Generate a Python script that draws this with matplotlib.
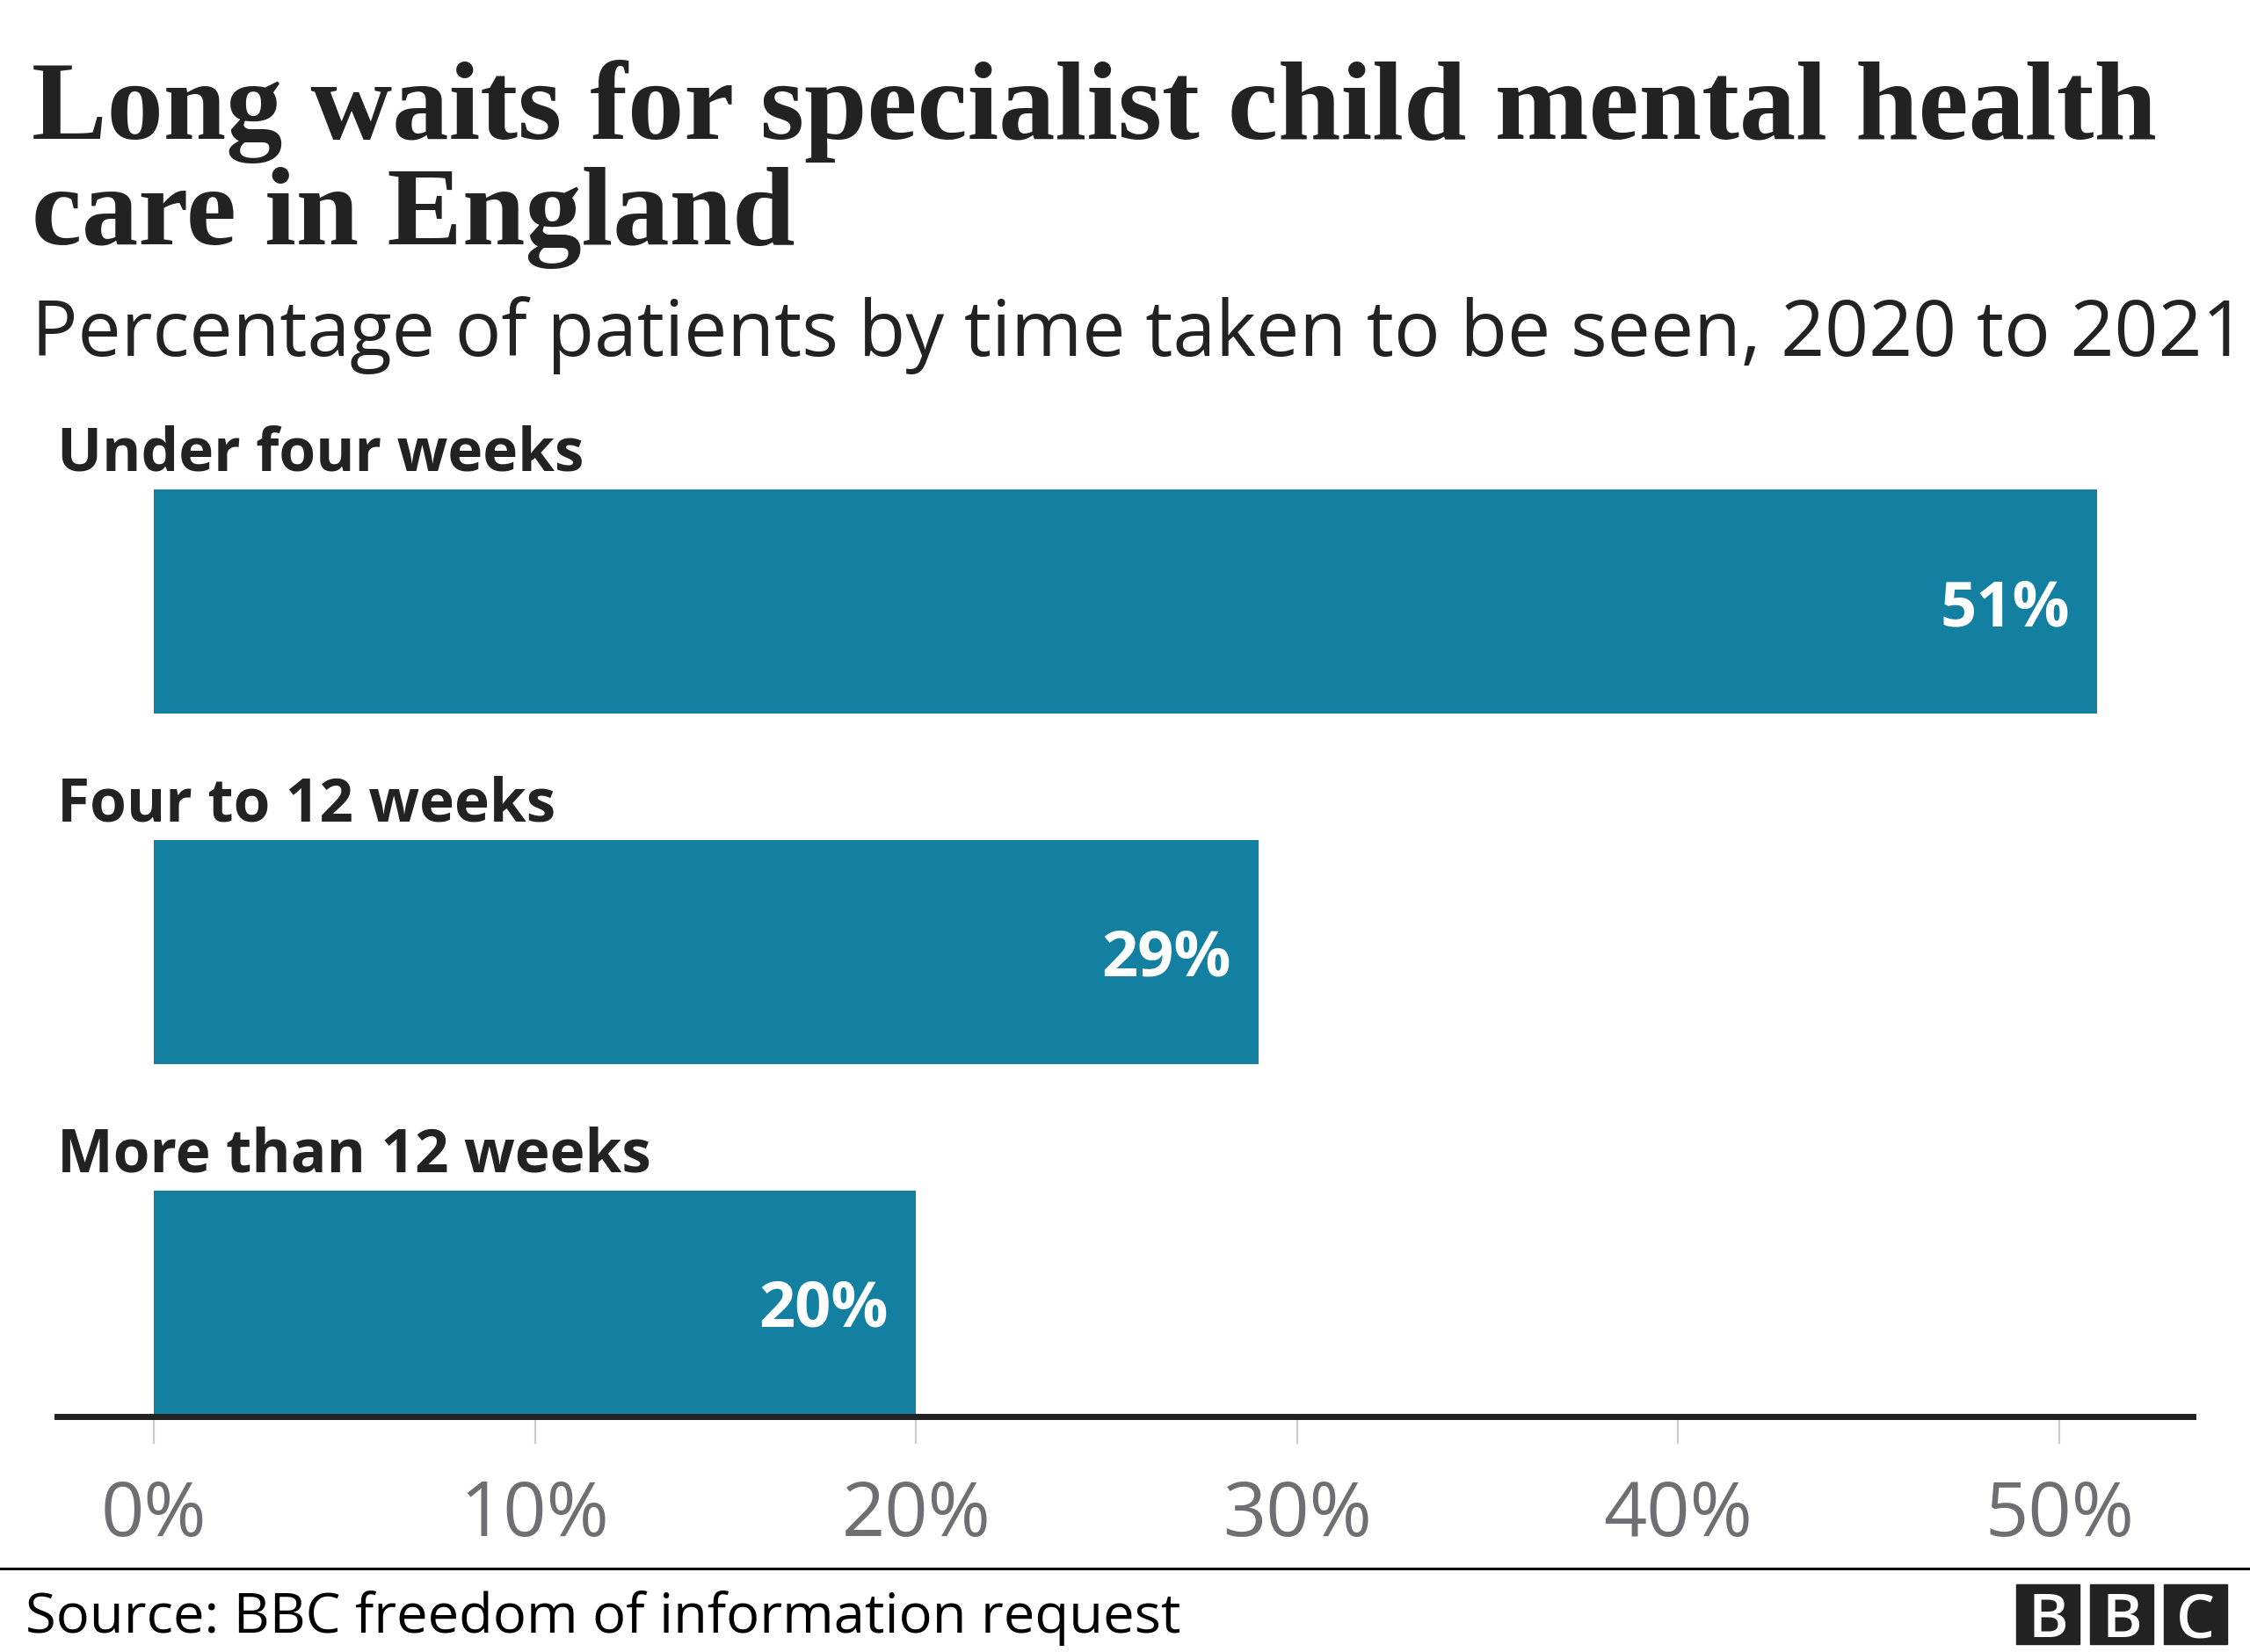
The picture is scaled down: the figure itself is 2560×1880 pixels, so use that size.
import matplotlib
matplotlib.use("Agg")
import matplotlib.pyplot as plt
from matplotlib.patches import Rectangle
from matplotlib.lines import Line2D

categories = ["Under four weeks", "Four to 12 weeks", "More than 12 weeks"]
values = [51, 29, 20]
ticks = [0, 10, 20, 30, 40, 50]
tick_labels = ["0%", "10%", "20%", "30%", "40%", "50%"]

title_lines = ["Long waits for specialist child mental health", "care in England"]
subtitle = "Percentage of patients by time taken to be seen, 2020 to 2021"
source = "Source: BBC freedom of information request"

W, H, DPI = 2560, 1880, 100
BAR = "#1380A1"
INK = "#222222"
GREY = "#6E6E73"
SANS = "Open Sans"
SERIF = "Liberation Serif"

fig = plt.figure(figsize=(W / DPI, H / DPI), dpi=DPI)
fig.patch.set_facecolor("white")
renderer = fig.canvas.get_renderer()


def fy(y):
    # pixel row from the top -> figure fraction
    return 1 - y / H


def fit(t, width):
    w = t.get_window_extent(renderer).width
    t.set_fontsize(t.get_fontsize() * width / w)
    return t


# plot area: x 65..2495 px, y 480..1612 px
ax = fig.add_axes([65 / W, fy(1612), (2495 - 65) / W, (1612 - 480) / H])
ypos = list(range(len(categories)))
ax.barh(ypos, values, height=0.64, color=BAR, zorder=2)
ax.set_xlim(-2.537, 53.505)
ax.set_ylim(2.325, -0.513)

for s in ["top", "left", "right"]:
    ax.spines[s].set_visible(False)
ax.spines["bottom"].set_color(INK)
ax.spines["bottom"].set_linewidth(5)
ax.spines["bottom"].set_zorder(3)
ax.set_yticks([])
ax.set_xticks(ticks)
ax.set_xticklabels(tick_labels, fontfamily=SANS)
ax.tick_params(axis="x", length=22, width=1.5, color="#CCCCCC",
               labelsize=62, labelcolor=GREY, pad=29)

# category labels above each bar, value labels inside the bar end
for i, (cat, v) in enumerate(zip(categories, values)):
    t = ax.text(0, i - 0.32 - 0.053, cat, transform=ax.get_yaxis_transform(),
                ha="left", va="baseline", fontsize=50, fontweight="bold",
                color=INK, fontfamily=SANS)
    if i == 0:
        fit(t, 600)
        cat_size = t.get_fontsize()
    else:
        t.set_fontsize(cat_size)
    ax.text(v - 0.72, i, f"{v}%", ha="right", va="center_baseline", fontsize=52,
            fontweight="bold", color="white", fontfamily=SANS)

# title and subtitle
t1 = fig.text(36 / W, fy(158), title_lines[0], ha="left", va="baseline",
              fontsize=80, fontweight="bold", color=INK, fontfamily=SERIF)
fit(t1, 2416)
fig.text(36 / W, fy(278), title_lines[1], ha="left", va="baseline",
         fontsize=t1.get_fontsize(), fontweight="bold", color=INK, fontfamily=SERIF)
st = fig.text(36 / W, fy(405), subtitle, ha="left", va="baseline",
              fontsize=50, color=INK, fontfamily=SANS)
fit(st, 2520)

# footer
fig.add_artist(Line2D([0, 1], [fy(1785), fy(1785)], color="black", lw=2.2,
                      transform=fig.transFigure))
src = fig.text(29 / W, fy(1858), source, ha="left", va="baseline",
               fontsize=40, color="black", fontfamily=SANS)
fit(src, 1313)

# BBC blocks
for k, letter in enumerate("BBC"):
    x0 = 2294 + k * 84
    fig.add_artist(Rectangle((x0 / W, fy(1871)), 72 / W, 68 / H,
                             transform=fig.transFigure, color=INK))
    fig.text((x0 + 36) / W, fy(1837), letter, ha="center", va="center_baseline",
             fontsize=50, fontweight="semibold", color="white", fontfamily=SANS)

fig.savefig("out.png", dpi=DPI)
